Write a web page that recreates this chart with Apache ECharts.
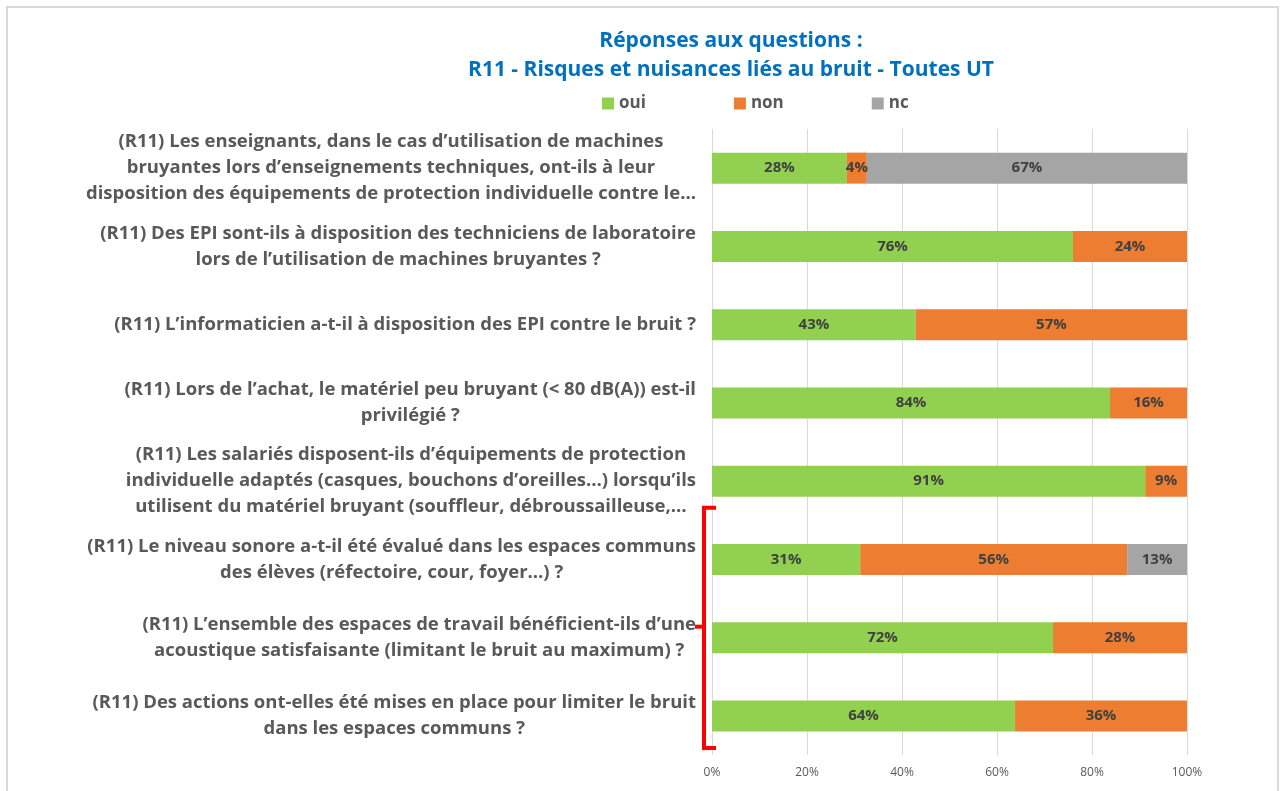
<!DOCTYPE html>
<html>
<head>
<meta charset="utf-8">
<script src="https://cdn.jsdelivr.net/npm/echarts@6/dist/echarts.min.js"></script>
<style>
    html, body { margin: 0; padding: 0; background: #fff; }
    #myChart { width: 1282px; height: 791px; }
</style>
</head>
<body>
<div id="myChart"></div>
<script>
    // questions (lignes déjà coupées comme dans le graphique d'origine)
    const categories = [
        '(R11) Les enseignants, dans le cas d’utilisation de machines\nbruyantes lors d’enseignements techniques, ont-ils à leur\ndisposition des équipements de protection individuelle contre le…',
        '(R11) Des EPI sont-ils à disposition des techniciens de laboratoire\nlors de l’utilisation de machines bruyantes ?',
        '(R11) L’informaticien a-t-il à disposition des EPI contre le bruit ?',
        '(R11) Lors de l’achat, le matériel peu bruyant (< 80 dB(A)) est-il\nprivilégié ?',
        '(R11) Les salariés disposent-ils d’équipements de protection\nindividuelle adaptés (casques, bouchons d’oreilles…) lorsqu’ils\nutilisent du matériel bruyant (souffleur, débroussailleuse,…',
        '(R11) Le niveau sonore a-t-il été évalué dans les espaces communs\ndes élèves (réfectoire, cour, foyer…) ?',
        '(R11) L’ensemble des espaces de travail bénéficient-ils d’une\nacoustique satisfaisante (limitant le bruit au maximum) ?',
        '(R11) Des actions ont-elles été mises en place pour limiter le bruit\ndans les espaces communs ?'
    ];
    const oui = [28.4, 76.0, 42.9, 83.8, 91.2, 31.2, 71.8, 63.8];
    const non = [4.2, 24.0, 57.1, 16.2, 8.8, 56.2, 28.2, 36.2];
    const nc = [67.4, 0, 0, 0, 0, 12.6, 0, 0];
    const xTicks = [0, 20, 40, 60, 80, 100];

    const font = 'Open Sans';
    const grey = '#595959';

    let myChart = echarts.init(document.getElementById('myChart'));

    function barSerie(name, data, color) {
        return {
            name: name,
            type: 'bar',
            stack: 'total',
            barWidth: 31,
            data: data,
            itemStyle: { color: color },
            label: {
                show: true,
                position: 'inside',
                color: '#404040',
                fontFamily: font,
                fontWeight: 'bold',
                fontSize: 15,
                formatter: p => p.value > 0 ? Math.round(p.value) + '%' : ''
            }
        };
    }

    myChart.setOption({
        animation: false,
        title: {
            text: 'Réponses aux questions :\nR11 - Risques et nuisances liés au bruit - Toutes UT',
            left: 726,
            top: 22,
            textAlign: 'center',
            textStyle: {
                color: '#0070C0',
                fontFamily: font,
                fontWeight: 'bold',
                fontSize: 21,
                lineHeight: 29
            }
        },
        legend: {
            data: ['oui', 'non', 'nc'],
            left: 597,
            top: 90,
            icon: 'rect',
            itemWidth: 12,
            itemHeight: 12,
            itemGap: 88,
            textStyle: { color: grey, fontFamily: font, fontWeight: 'bold', fontSize: 17 }
        },
        grid: { left: 712, right: 95, top: 129, bottom: 36, containLabel: false },
        xAxis: {
            type: 'value',
            min: xTicks[0],
            max: xTicks[xTicks.length - 1],
            interval: 20,
            axisLine: { show: false },
            axisTick: { show: false },
            splitLine: { lineStyle: { color: '#D9D9D9', width: 1 } },
            axisLabel: {
                formatter: '{value}%',
                color: grey,
                fontFamily: font,
                fontSize: 12,
                margin: 12
            }
        },
        yAxis: {
            type: 'category',
            inverse: true,
            data: categories,
            axisLine: { show: false },
            axisTick: { show: false },
            axisLabel: {
                margin: 16,
                align: 'right',
                // chaque ligne centrée dans un bloc aligné à droite
                formatter: v => v.split('\n').map(l => '{c|' + l + '}').join('\n'),
                rich: {
                    c: {
                        align: 'center',
                        color: grey,
                        fontFamily: font,
                        fontWeight: 'bold',
                        fontSize: 18.5,
                        lineHeight: 26
                    }
                }
            }
        },
        series: [
            barSerie('oui', oui, '#92D050'),
            barSerie('non', non, '#ED7D31'),
            barSerie('nc', nc, '#A5A5A5')
        ]
    });

    // accolade rouge à gauche des 3 dernières questions + cadre gris
    function drawExtras() {
        const y5 = myChart.convertToPixel({ yAxisIndex: 0 }, 5);
        const y6 = myChart.convertToPixel({ yAxisIndex: 0 }, 6);
        const y7 = myChart.convertToPixel({ yAxisIndex: 0 }, 7);
        const x0 = myChart.convertToPixel({ xAxisIndex: 0 }, 0);
        const band = y6 - y5;
        const top = y5 - 0.66 * band;
        const bottom = y7 + 0.41 * band;
        const mid = y6 - 0.14 * band;
        const lx = x0 - 8;
        myChart.setOption({
            graphic: [
                {
                    type: 'rect',
                    shape: { x: 7, y: 7, width: 1271, height: 800 },
                    style: { fill: 'none', stroke: '#D9D9D9', lineWidth: 2 },
                    silent: true
                },
                {
                    type: 'polyline',
                    shape: { points: [[x0 + 4, top], [lx, top], [lx, bottom], [x0 + 4, bottom]] },
                    style: { fill: 'none', stroke: '#FF0000', lineWidth: 4 },
                    silent: true
                },
                {
                    type: 'line',
                    shape: { x1: x0 - 17, y1: mid, x2: lx, y2: mid },
                    style: { stroke: '#FF0000', lineWidth: 4 },
                    silent: true
                }
            ]
        });
    }
    drawExtras();
</script>
</body>
</html>
